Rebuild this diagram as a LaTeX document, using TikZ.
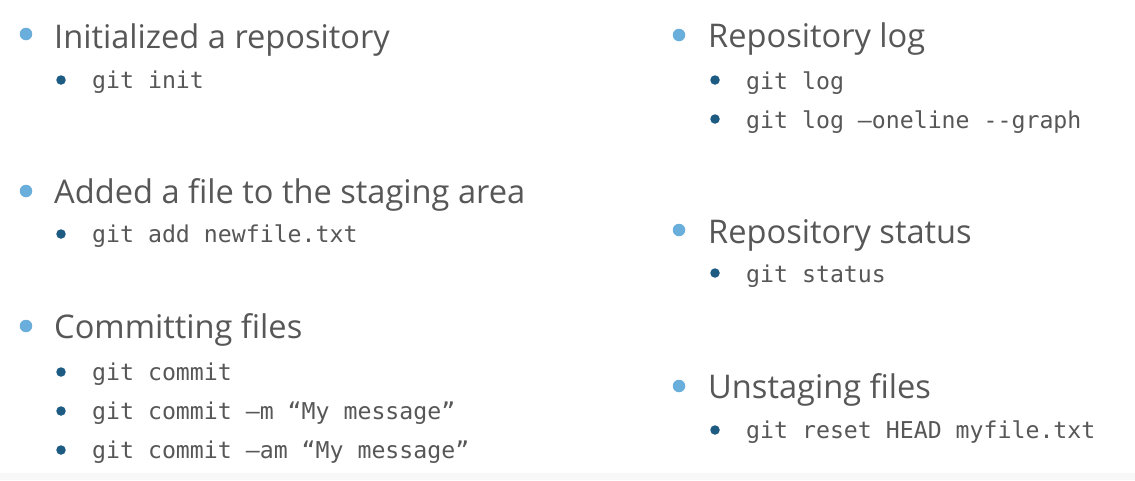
\documentclass[tikz,border=0pt]{standalone}
\usepackage{fontspec}
\newfontfamily\headfont{Open Sans}
\newfontfamily\monofont{DejaVu Sans Mono}
\definecolor{txt}{HTML}{575757}
\definecolor{lightdot}{HTML}{6AAEDB}
\definecolor{darkdot}{HTML}{1D5B82}
\definecolor{bandgray}{HTML}{F8F8F8}
\tikzset{
  head/.style={anchor=base west, inner sep=0pt, text=txt, font=\headfont\fontsize{32.6}{36}\selectfont},
  cmd/.style={anchor=base west, inner sep=0pt, text=txt, font=\monofont\fontsize{23.2}{26}\selectfont},
  bigdot/.style={circle, fill=lightdot, inner sep=0pt, minimum size=12.5pt},
  smalldot/.style={circle, fill=darkdot, inner sep=0pt, minimum size=9.5pt},
}
\begin{document}
\begin{tikzpicture}[x=1pt,y=-1pt]
\useasboundingbox (0,0) rectangle (1135,480);
\fill[white] (0,0) rectangle (1135,480);
\fill[bandgray] (0,473) rectangle (1135,480);
% left column
\node[bigdot] (d1) at (26,34) {};
\node[head] (h1) at (54,48) {Initialized a repository};
\node[smalldot] (s1) at (61,80) {};
\node[cmd] (c1) at (92,88) {git init};

\node[bigdot] (d2) at (26,191) {};
\node[head] (h2) at (54,203) {Added a file to the staging area};
\node[smalldot] (s2) at (61,234) {};
\node[cmd] (c2) at (92,242) {git add newfile.txt};

\node[bigdot] (d3) at (26,326) {};
\node[head] (h3) at (54,338) {Committing files};
\node[smalldot] (s3) at (61,372) {};
\node[cmd] (c3) at (92,380) {git commit};
\node[smalldot] (s4) at (61,411) {};
\node[cmd] (c4) at (92,419) {git commit –m “My message”};
\node[smalldot] (s5) at (61,450) {};
\node[cmd] (c5) at (92,458) {git commit –am “My message”};

% right column
\node[bigdot] (d4) at (679,35) {};
\node[head] (h4) at (708,47) {Repository log};
\node[smalldot] (s6) at (715,80) {};
\node[cmd] (c6) at (746,89) {git log};
\node[smalldot] (s7) at (715,119) {};
\node[cmd] (c7) at (746,128) {git log –oneline --graph};

\node[bigdot] (d5) at (679,230) {};
\node[head] (h5) at (708,243) {Repository status};
\node[smalldot] (s8) at (715,273) {};
\node[cmd] (c8) at (746,282) {git status};

\node[bigdot] (d6) at (679,386) {};
\node[head] (h6) at (708,398) {Unstaging files};
\node[smalldot] (s9) at (715,430) {};
\node[cmd] (c9) at (746,438) {git reset HEAD myfile.txt};
\end{tikzpicture}
\end{document}
